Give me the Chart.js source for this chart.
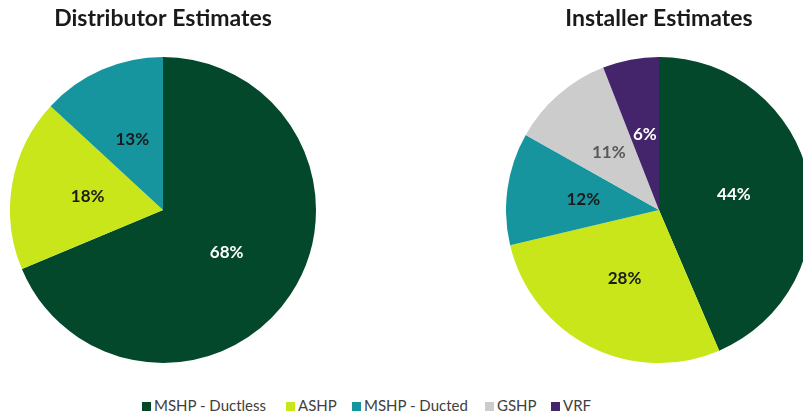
<!DOCTYPE html>
<html>
<head>
<meta charset="utf-8">
<script src="https://cdn.jsdelivr.net/npm/chart.js@4.4.1/dist/chart.umd.min.js"></script>
<style>
  html, body { margin:0; padding:0; width:803px; height:416px; overflow:hidden; background:#fff; }
  .box { position:absolute; }
  #legend { position:absolute; left:0; top:396px; width:803px; height:18px; font-family:Lato, "Open Sans", sans-serif; font-size:15px; color:#404040; }
  .item { position:absolute; top:0; white-space:nowrap; line-height:18px; }
  .sw { display:inline-block; width:9px; height:9px; margin-right:3px; vertical-align:0px; }
</style>
</head>
<body>
<div class="box" style="left:10px; top:0; width:306px; height:363px;"><canvas id="c1"></canvas></div>
<div class="box" style="left:506px; top:0; width:306px; height:363px;"><canvas id="c2"></canvas></div>
<div id="legend"></div>
<script>
const categories = ["MSHP - Ductless", "ASHP", "MSHP - Ducted", "GSHP", "VRF"];
const colors = ["#03482A", "#C8E61A", "#17959E", "#CCCCCC", "#44246A"];
const labelColors = ["#FFFFFF", "#1A1A1A", "#1A1A1A", "#595959", "#FFFFFF"];
const distributorValues = [68, 18, 13];
const installerValues = [44, 28, 12, 11, 6];
const titles = ["Distributor Estimates", "Installer Estimates"];
const legendX = [142, 286, 352, 485, 551];

const labelPlugin = {
  id: 'sliceLabels',
  afterDatasetsDraw(chart) {
    const ctx = chart.ctx;
    const ds = chart.data.datasets[0];
    const meta = chart.getDatasetMeta(0);
    ctx.save();
    ctx.font = 'bold 17px Lato, "Open Sans", sans-serif';
    ctx.textAlign = 'center';
    ctx.textBaseline = 'middle';
    meta.data.forEach((arc, i) => {
      const p = arc.tooltipPosition();
      ctx.fillStyle = labelColors[i];
      ctx.fillText(ds.data[i] + '%', p.x, p.y);
    });
    ctx.restore();
  }
};

function makePie(id, values, title) {
  const n = values.length;
  return new Chart(document.getElementById(id), {
    type: 'pie',
    data: {
      labels: categories.slice(0, n),
      datasets: [{
        data: values,
        backgroundColor: colors.slice(0, n),
        borderWidth: 0
      }]
    },
    options: {
      responsive: true,
      maintainAspectRatio: false,
      animation: false,
      layout: { padding: 0 },
      plugins: {
        legend: { display: false },
        tooltip: { enabled: false },
        title: {
          display: true,
          text: title,
          color: '#1A1A1A',
          font: { family: 'Lato, "Open Sans", sans-serif', size: 23, weight: 'bold', lineHeight: 1.2 },
          padding: { top: 5, bottom: 24.4 }
        }
      }
    },
    plugins: [labelPlugin]
  });
}

makePie('c1', distributorValues, titles[0]);
makePie('c2', installerValues, titles[1]);

const leg = document.getElementById('legend');
categories.forEach((c, i) => {
  const d = document.createElement('div');
  d.className = 'item';
  d.style.left = legendX[i] + 'px';
  const s = document.createElement('span');
  s.className = 'sw';
  s.style.background = colors[i];
  d.appendChild(s);
  d.appendChild(document.createTextNode(c));
  leg.appendChild(d);
});
</script>
</body>
</html>
